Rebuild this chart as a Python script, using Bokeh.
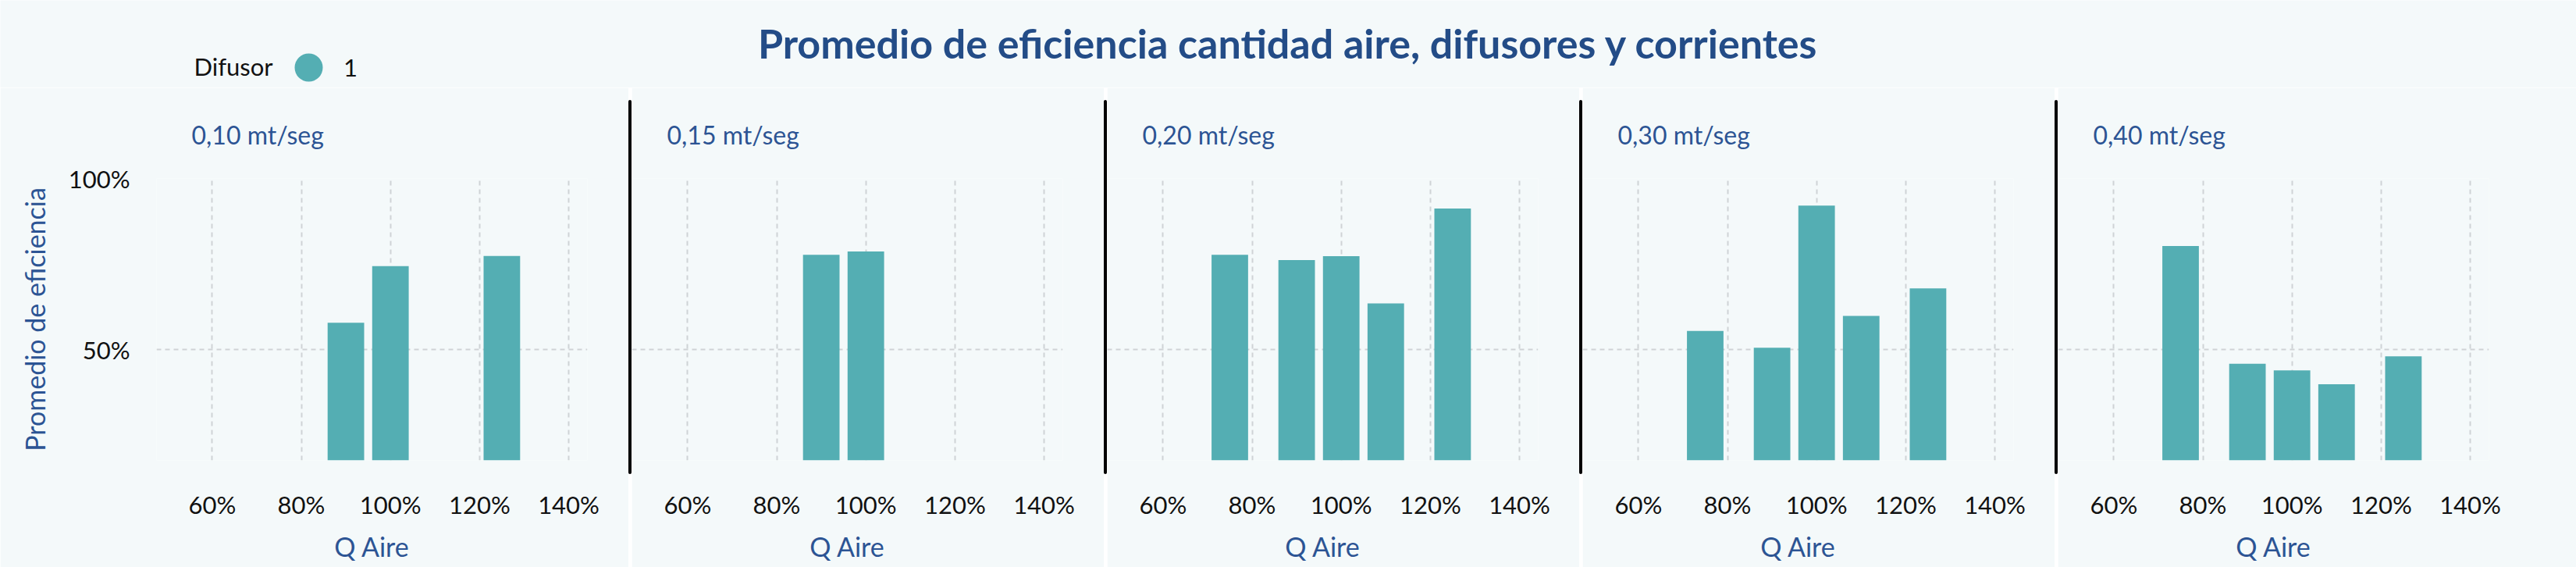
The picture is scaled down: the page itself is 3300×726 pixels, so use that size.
from bokeh.plotting import figure
from bokeh.layouts import column, row
from bokeh.models import (ColumnDataSource, Range1d, FixedTicker, PrintfTickFormatter,
                          Label, Legend, LegendItem, Div)
from bokeh.embed import file_html
from bokeh.resources import INLINE

# --- data ---
corrientes = ["0,10 mt/seg", "0,15 mt/seg", "0,20 mt/seg", "0,30 mt/seg", "0,40 mt/seg"]
q_aire_010 = [90, 100, 125]
efic_010 = [57.9, 74.4, 77.4]
q_aire_015 = [90, 100]
efic_015 = [77.7, 78.7]
q_aire_020 = [75, 90, 100, 110, 125]
efic_020 = [77.7, 76.2, 77.3, 63.5, 91.2]
q_aire_030 = [75, 90, 100, 110, 125]
efic_030 = [55.5, 50.6, 92.1, 59.9, 67.9]
q_aire_040 = [75, 90, 100, 110, 125]
efic_040 = [80.3, 45.9, 44.0, 39.9, 48.1]
x_ticks = [60, 80, 100, 120, 140]
y_ticks = [50, 100]
difusor = "1"

q_aire = [q_aire_010, q_aire_015, q_aire_020, q_aire_030, q_aire_040]
eficiencia = [efic_010, efic_015, efic_020, efic_030, efic_040]

# --- style ---
BG = "#f4f9fa"
TEAL = "#54aeb3"
BLUE = "#2c5494"
DARK_BLUE = "#234c87"
GRID = "#cfd3d6"
FONT = "Lato"
Y_MIN, Y_MAX = 17.7, 100
X_MIN, X_MAX = 47.5, 144.2
BAR_W = 8.2
HDR_H = 112

figs = []
n = len(corrientes)
for i, (name, xs, ys) in enumerate(zip(corrientes, q_aire, eficiencia)):
    first = i == 0
    last = i == n - 1
    left = 200 if first else 0
    right = 112 if last else 53
    p = figure(width=left + 552 + right, height=726 - HDR_H,
               x_range=Range1d(X_MIN, X_MAX), y_range=Range1d(Y_MIN, Y_MAX),
               output_backend="svg", toolbar_location=None,
               min_border_left=left, min_border_right=right,
               min_border_top=228 - HDR_H, min_border_bottom=137,
               background_fill_color=BG, border_fill_color=BG,
               outline_line_color=None)
    p.title.text = name
    p.title.align = "left"
    p.title.offset = 45
    p.title.standoff = 74
    p.title.text_font = FONT
    p.title.text_font_size = "32px"
    p.title.text_font_style = "normal"
    p.title.text_color = BLUE

    src = ColumnDataSource(dict(q=xs, e=ys))
    p.vbar(x="q", top="e", bottom=Y_MIN, width=BAR_W, source=src,
           fill_color=TEAL, line_color=None)

    p.xaxis.ticker = FixedTicker(ticks=x_ticks)
    p.xaxis.formatter = PrintfTickFormatter(format="%d%%")
    p.xaxis.axis_label = "Q Aire"
    p.yaxis.ticker = FixedTicker(ticks=y_ticks)
    p.yaxis.formatter = PrintfTickFormatter(format="%d%%")
    p.xgrid.ticker = FixedTicker(ticks=x_ticks)
    p.ygrid.ticker = FixedTicker(ticks=y_ticks)
    for ax in (p.xaxis[0], p.yaxis[0]):
        ax.axis_line_color = None
        ax.major_tick_line_color = None
        ax.minor_tick_line_color = None
        ax.major_tick_out = 0
        ax.major_label_text_font = FONT
        ax.major_label_text_font_size = "31px"
        ax.major_label_text_color = "#111111"
        ax.axis_label_text_font = FONT
        ax.axis_label_text_font_size = "34px"
        ax.axis_label_text_font_style = "normal"
        ax.axis_label_text_color = BLUE
    p.xaxis.major_label_standoff = 37
    p.xaxis.axis_label_standoff = 11
    if first:
        p.yaxis.axis_label = "Promedio de eficiencia"
        p.yaxis.major_label_standoff = 34
        p.yaxis.axis_label_standoff = 20
    else:
        p.yaxis.visible = False

    p.grid.grid_line_color = GRID
    p.grid.grid_line_dash = "6 5"
    p.grid.grid_line_width = 2
    figs.append(p)

# header with title and legend
hdr = figure(width=3300, height=HDR_H, x_range=Range1d(0, 3300), y_range=Range1d(0, HDR_H),
             output_backend="svg", toolbar_location=None, min_border=0,
             background_fill_color=BG, border_fill_color=BG, outline_line_color=None)
hdr.axis.visible = False
hdr.grid.visible = False
hdr.add_layout(Label(x=1650, y=HDR_H - 54, text="Promedio de eficiencia cantidad aire, difusores y corrientes",
                     text_align="center", text_baseline="alphabetic", text_font=FONT,
                     text_font_size="52px", text_font_style="bold", text_color=DARK_BLUE))
hdr.add_layout(Label(x=248, y=HDR_H - 84, text="Difusor", text_baseline="alphabetic", text_font=FONT,
                     text_font_size="31px", text_color="#111111"))
nan = float("nan")
dot = hdr.scatter(x=[nan], y=[nan], marker="circle", size=36, fill_color=TEAL, line_color=None)
legend = Legend(items=[LegendItem(label=difusor, renderers=[dot])], location=(350, HDR_H - 131),
                glyph_width=90, glyph_height=90, label_standoff=0, label_text_align="right",
                padding=0, margin=0, spacing=0, border_line_color=None, background_fill_alpha=0,
                label_text_font=FONT, label_text_font_size="31px", label_text_color="#111111")
hdr.add_layout(legend)

items = [figs[0]]
for p in figs[1:]:
    items.append(Div(width=4, height=479, margin=(128 - HDR_H, 0, 0, 0),
                     styles={"background-color": "black", "border-radius": "2px"}))
    items.append(p)

layout = column(hdr, row(*items, spacing=0), spacing=0)
open("out.html", "w").write(file_html(layout, INLINE))
